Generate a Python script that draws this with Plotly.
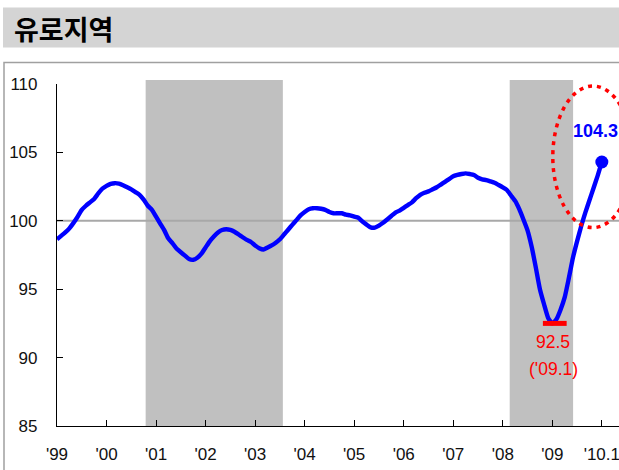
import plotly.graph_objects as go

# ---- data (monthly index, Jan 1999 = 0 ... Jan 2010 = 132) ----
start_year = 1999
values = [
    98.65, 98.9, 99.15, 99.45, 99.85, 100.3, 100.8, 101.1, 101.35, 101.6, 102.0, 102.35,
    102.55, 102.7, 102.75, 102.72, 102.6, 102.45, 102.3, 102.1, 101.9, 101.55, 101.1, 100.8,
    100.3, 99.8, 99.3, 98.7, 98.35, 97.95, 97.7, 97.45, 97.2, 97.15, 97.3, 97.6,
    98.05, 98.5, 98.85, 99.15, 99.33, 99.38, 99.33, 99.2, 99.0, 98.8, 98.6, 98.45,
    98.2, 98.0, 97.9, 98.05, 98.2, 98.4, 98.65, 99.0, 99.35, 99.7, 100.05, 100.4,
    100.65, 100.85, 100.92, 100.92, 100.88, 100.8, 100.65, 100.55, 100.55, 100.55, 100.45, 100.4,
    100.3, 100.22, 99.95, 99.72, 99.52, 99.5, 99.65, 99.85, 100.1, 100.35, 100.6, 100.75,
    100.95, 101.15, 101.35, 101.65, 101.9, 102.05, 102.15, 102.3, 102.45, 102.65, 102.85, 103.05,
    103.25, 103.35, 103.42, 103.47, 103.42, 103.35, 103.15, 103.03, 102.98, 102.88, 102.78, 102.62,
    102.45, 102.25, 101.85, 101.45, 100.85, 100.1, 99.3, 98.1, 96.6, 95.0, 93.9, 92.9,
    92.5, 92.8, 93.5, 94.4, 95.8, 97.3, 98.5, 99.6, 100.6, 101.5, 102.4, 103.3,
    104.3,
]
x_years = [start_year + i / 12 for i in range(len(values))]

recessions = [(2000.79, 2003.56), (2008.14, 2009.42)]
tick_vals = list(range(1999, 2011))
tick_text = ["'99", "'00", "'01", "'02", "'03", "'04", "'05", "'06", "'07", "'08", "'09", "'10.1"]
y_ticks = [85, 90, 95, 100, 105, 110]
title_text = "유로지역"
min_label = "92.5"
min_date_label = "('09.1)"
last_label = "104.3"

min_val = min(values)
min_idx = values.index(min_val)
min_x = x_years[min_idx]
last_x, last_v = x_years[-1], values[-1]

W, H = 619, 470
ML, MR, MT, MB = 57, 0, 84, 44
PW, PH = W - ML - MR, H - MT - MB


def px2paper_x(px):
    return (px - ML) / PW


def px2paper_y(py):
    return (H - MB - py) / PH


FONT = "Arial, Liberation Sans, sans-serif"

fig = go.Figure()

fig.add_trace(go.Scatter(
    x=x_years, y=values, mode="lines",
    line=dict(color="#0000ff", width=4.4, shape="spline", smoothing=0.5),
    hoverinfo="skip", showlegend=False,
))
fig.add_trace(go.Scatter(
    x=[last_x], y=[last_v], mode="markers",
    marker=dict(color="#0000ff", size=13),
    hoverinfo="skip", showlegend=False, cliponaxis=False,
))

shapes = []
# outer frame
shapes.append(dict(type="rect", xref="paper", yref="paper",
                   x0=px2paper_x(4), x1=px2paper_x(630), y0=px2paper_y(480), y1=px2paper_y(62.5),
                   line=dict(color="#a0a0a0", width=1.5), fillcolor="rgba(0,0,0,0)", layer="below"))
# title band
shapes.append(dict(type="rect", xref="paper", yref="paper",
                   x0=px2paper_x(3), x1=px2paper_x(625), y0=px2paper_y(47.5), y1=px2paper_y(7.5),
                   line=dict(width=0), fillcolor="#d4d4d4", layer="below"))
# recession shading
for a, b in recessions:
    shapes.append(dict(type="rect", xref="x", yref="paper", x0=a, x1=b,
                       y0=0, y1=px2paper_y(80), line=dict(width=0),
                       fillcolor="#c0c0c0", layer="below"))
# 100 reference line
shapes.append(dict(type="line", xref="paper", yref="y", x0=0, x1=1, y0=100, y1=100,
                   line=dict(color="#a8a8a8", width=2), layer="below"))
# dotted ellipse around the latest value
shapes.append(dict(type="circle", xref="x", yref="y",
                   x0=2009.01, x1=2010.63, y0=99.5, y1=109.85,
                   line=dict(color="#ff0000", width=3.5, dash="4px,5px"),
                   fillcolor="rgba(0,0,0,0)", layer="above"))
# red bar marking the minimum
shapes.append(dict(type="line", xref="x", yref="y",
                   x0=min_x - 0.19, x1=min_x + 0.29, y0=min_val, y1=min_val,
                   line=dict(color="#ff0000", width=5), layer="above"))

annotations = [
    dict(xref="paper", yref="paper", x=px2paper_x(12), y=px2paper_y(28.5),
         text=f"<b>{title_text}</b>", showarrow=False, xanchor="left", yanchor="middle",
         font=dict(family="Noto Sans CJK KR", size=27, color="#000000")),
    dict(x=last_x, y=last_v, text=f"<b>{last_label}</b>", showarrow=False,
         xanchor="center", yanchor="middle", xshift=-6, yshift=31,
         font=dict(family=FONT, size=18, color="#0000ff")),
    dict(x=min_x, y=min_val, text=min_label, showarrow=False,
         xanchor="center", yanchor="middle", xshift=1, yshift=-19,
         font=dict(family=FONT, size=17.5, color="#ff0000")),
    dict(x=min_x, y=min_val, text=min_date_label, showarrow=False,
         xanchor="center", yanchor="middle", xshift=1, yshift=-46,
         font=dict(family=FONT, size=17.5, color="#ff0000")),
]

fig.update_layout(
    width=W, height=H,
    margin=dict(l=ML, r=MR, t=MT, b=MB, pad=0),
    paper_bgcolor="#ffffff", plot_bgcolor="#ffffff",
    shapes=shapes, annotations=annotations,
    font=dict(family=FONT, size=17, color="#111111"),
    xaxis=dict(
        range=[1999, 1999 + (W - ML) / 49.53],
        tickvals=tick_vals, ticktext=tick_text,
        showgrid=False, zeroline=False,
        showline=True, linecolor="#000000", linewidth=1.2,
        ticks="inside", ticklen=6, tickwidth=1, tickcolor="#000000",
        ticklabelstandoff=12, ticklabeloverflow="allow",
        tickfont=dict(family=FONT, size=17, color="#111111"),
        fixedrange=True,
    ),
    yaxis=dict(
        range=[85, 110],
        tickvals=y_ticks,
        showgrid=False, zeroline=False,
        showline=True, linecolor="#000000", linewidth=1.2,
        ticks="inside", ticklen=6, tickwidth=1, tickcolor="#000000",
        ticklabelstandoff=15, ticklabeloverflow="allow",
        tickfont=dict(family=FONT, size=17, color="#111111"),
        fixedrange=True,
    ),
)

fig.write_html(
    "out.html",
    config={"displayModeBar": False},
    post_script="document.body.style.margin='0';document.body.style.overflow='hidden';"
                "document.documentElement.style.overflow='hidden';",
)
